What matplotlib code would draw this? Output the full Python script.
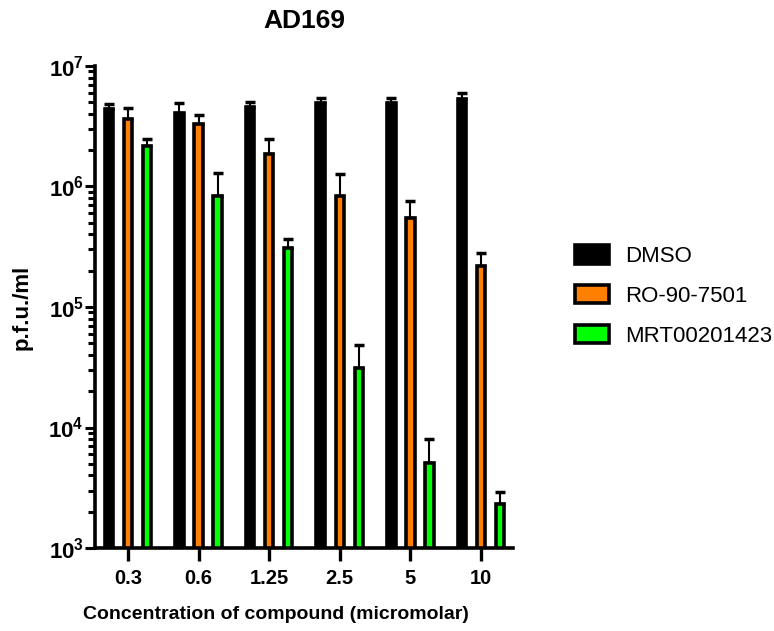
import numpy as np
import matplotlib
matplotlib.use("Agg")
import matplotlib.pyplot as plt
from matplotlib.ticker import LogLocator, FuncFormatter, NullFormatter

plt.rcParams['font.family'] = ['Liberation Sans', 'DejaVu Sans']
plt.rcParams['mathtext.fontset'] = 'custom'
plt.rcParams['mathtext.rm'] = 'Liberation Sans:bold'
plt.rcParams['mathtext.bf'] = 'Liberation Sans:bold'

concentrations = ["0.3", "0.6", "1.25", "2.5", "5", "10"]
series_names = ["DMSO", "RO-90-7501", "MRT00201423"]

dmso = [4.4e6, 4.1e6, 4.6e6, 4.9e6, 4.9e6, 5.3e6]
dmso_top = [4.8e6, 4.9e6, 5.0e6, 5.4e6, 5.4e6, 6.0e6]

ro = [3.6e6, 3.3e6, 1.86e6, 8.3e5, 5.5e5, 2.2e5]
ro_top = [4.5e6, 3.9e6, 2.46e6, 1.26e6, 7.6e5, 2.8e5]

mrt = [2.17e6, 8.3e5, 3.1e5, 3.1e4, 5.1e3, 2.3e3]
mrt_top = [2.5e6, 1.3e6, 3.7e5, 4.8e4, 8.1e3, 2.9e3]

colors = ["#000000", "#FF7F00", "#00FF00"]

fig = plt.figure(figsize=(7.74, 6.31), dpi=100)
ax = fig.add_axes([0.1227, 0.1315, 0.5401, 0.764])

x = np.arange(len(concentrations))
offsets = [-0.27, 0.0, 0.27]
width = 0.12
for vals, tops, off, c, name in zip([dmso, ro, mrt], [dmso_top, ro_top, mrt_top],
                                     offsets, colors, series_names):
    vals = np.array(vals)
    err = np.array(tops) - vals
    ax.errorbar(x + off, vals, yerr=[np.zeros_like(vals), err], fmt='none',
                ecolor='black', elinewidth=1.5, capsize=3.5, capthick=2.5, zorder=1)
    ax.bar(x + off, vals, width=width, color=c, edgecolor='black',
           linewidth=2.6, label=name, zorder=2)

ax.set_yscale('log')
ax.set_ylim(1e3, 1e7)
ax.set_xlim(-0.467, 5.453)
ax.yaxis.set_major_locator(LogLocator(base=10, numticks=10))
ax.yaxis.set_minor_locator(LogLocator(base=10, subs=np.arange(2, 10), numticks=20))
ax.yaxis.set_minor_formatter(NullFormatter())
ax.yaxis.set_major_formatter(FuncFormatter(lambda v, p: r'$10^{%d}$' % int(round(np.log10(v)))))

ax.set_xticks(x)
ax.set_xticklabels(concentrations, fontsize=14.5, fontweight='bold')

for s in ['top', 'right']:
    ax.spines[s].set_visible(False)
for s in ['left', 'bottom']:
    ax.spines[s].set_linewidth(2.6)

ax.tick_params(axis='y', which='major', length=7, width=2.2, labelsize=16, pad=1)
ax.tick_params(axis='y', which='minor', length=4.8, width=2.2)
ax.tick_params(axis='x', which='major', length=9, width=2.4, pad=6)

ax.set_xlabel("Concentration of compound (micromolar)", fontsize=14, fontweight='bold')
ax.xaxis.set_label_coords(0.433, -0.12)
ax.set_ylabel("p.f.u./ml", fontsize=16, fontweight='bold')
ax.yaxis.set_label_coords(-0.150, 0.5)
ax.set_title("AD169", fontsize=19, fontweight='bold', pad=27)

leg = ax.legend(loc='center left', bbox_to_anchor=(0.743, 0.531),
                bbox_transform=fig.transFigure, frameon=False, borderpad=0,
                borderaxespad=0, fontsize=16, handlelength=1.53, handleheight=0.9,
                labelspacing=0.8, handletextpad=0.72)

fig.savefig("out.png", dpi=100)
